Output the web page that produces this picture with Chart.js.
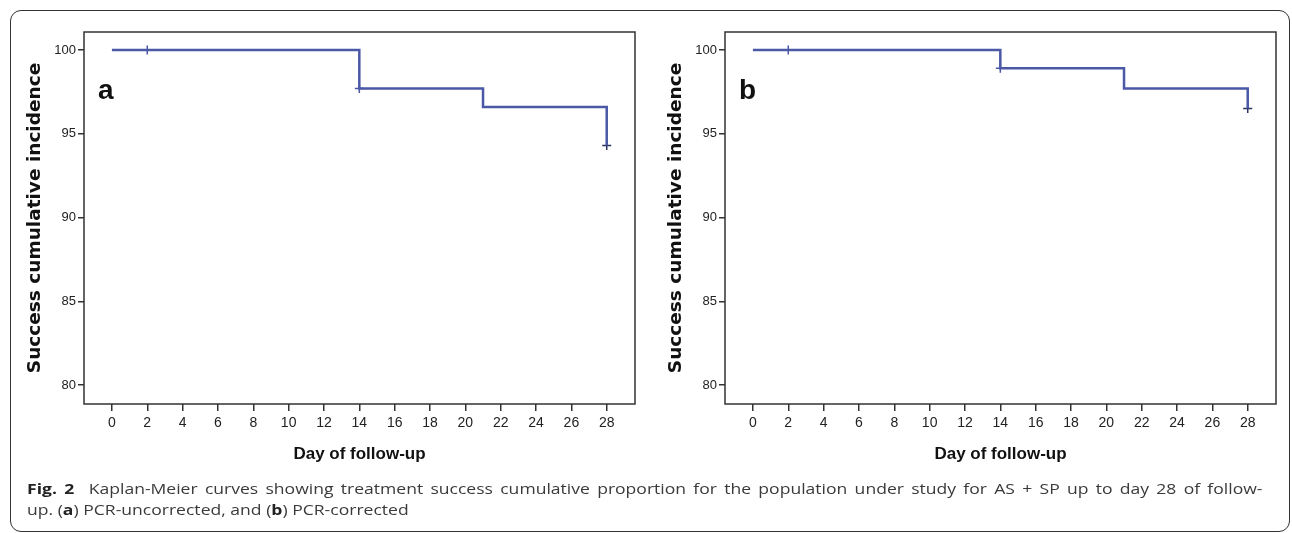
<!DOCTYPE html>
<html>
<head>
<meta charset="utf-8">
<script src="https://cdn.jsdelivr.net/npm/chart.js@4.4.1/dist/chart.umd.min.js"></script>
<style>
  body { margin: 0; background: #fff; width: 1292px; height: 533px; overflow: hidden; position: relative; }
  .frame { position: absolute; left: 10px; top: 10px; width: 1278px; height: 520px; border: 1.5px solid #333; border-radius: 11px; }
  .panel { position: absolute; top: 0; width: 650px; height: 480px; }
  #panelA { left: 0; }
  #panelB { left: 641px; }
  .caption { position: absolute; left: 27px; top: 478px; font-family: "Open Sans", "Noto Sans", sans-serif; font-size: 15px; line-height: 21px; color: #3a3a3a; transform: scaleX(1.17); transform-origin: 0 0; }
  .caption .l1 { width: 1056px; white-space: nowrap; text-align: justify; text-align-last: justify; }
  .caption .l2 { white-space: nowrap; }
  .caption b { color: #222; }
</style>
</head>
<body>
<div class="frame"></div>
<div class="panel" id="panelA"><canvas id="chartA" width="650" height="480"></canvas></div>
<div class="panel" id="panelB"><canvas id="chartB" width="650" height="480"></canvas></div>
<div class="caption">
  <div class="l1"><b>Fig. 2</b>&nbsp; Kaplan-Meier curves showing treatment success cumulative proportion for the population under study for AS + SP up to day 28 of follow-</div>
  <div class="l2">up. (<b>a</b>) PCR-uncorrected, and (<b>b</b>) PCR-corrected</div>
</div>
<script>
// step points of each curve (day, success %)
const stepDaysA = [0, 14, 21, 28];
const stepValsA = [100, 97.7, 96.6, 94.3];
const censorDaysA = [2, 14, 28];
const censorValsA = [100, 97.7, 94.3];

const stepDaysB = [0, 14, 21, 28];
const stepValsB = [100, 98.9, 97.7, 96.5];
const censorDaysB = [2, 14, 28];
const censorValsB = [100, 98.9, 96.5];

const xTicks = [0, 2, 4, 6, 8, 10, 12, 14, 16, 18, 20, 22, 24, 26, 28];
const yTicks = [80, 85, 90, 95, 100];

const lineColor = '#4a58a6';
const sans = "'Liberation Sans', Arial, sans-serif";

// box around plot area + panel letter
const frameBox = {
  id: 'frameBox',
  afterDraw(chart, args, opts) {
    const { ctx, chartArea } = chart;
    ctx.save();
    ctx.strokeStyle = '#333';
    ctx.lineWidth = 1.5;
    ctx.strokeRect(chartArea.left, chartArea.top, chartArea.right - chartArea.left, chartArea.bottom - chartArea.top);
    ctx.fillStyle = '#111';
    ctx.font = "bold 28px " + sans;
    ctx.textBaseline = 'alphabetic';
    ctx.fillText(opts.letter, chartArea.left + 14, 99);
    ctx.restore();
  }
};

function makePanel(id, letter, days, vals, cDays, cVals) {
  const ctx = document.getElementById(id).getContext('2d');
  return new Chart(ctx, {
    type: 'line',
    data: {
      datasets: [{
        data: days.map((d, i) => ({ x: d, y: vals[i] })),
        borderColor: lineColor,
        borderWidth: 2.5,
        stepped: true,
        pointRadius: 0,
        fill: false
      }, {
        data: cDays.map((d, i) => ({ x: d, y: cVals[i] })),
        showLine: false,
        pointStyle: 'cross',
        pointRadius: 4.5,
        pointBorderWidth: 1.5,
        pointBorderColor: cDays.map((d, i) => i === cDays.length - 1 ? '#2b3060' : lineColor)
      }]
    },
    options: {
      responsive: false,
      animation: false,
      events: [],
      layout: { padding: { top: 32, right: 15, left: 0, bottom: 0 } },
      plugins: { legend: { display: false }, tooltip: { enabled: false }, frameBox: { letter: letter } },
      scales: {
        x: {
          type: 'linear',
          min: -1.58,
          max: 29.6,
          afterFit(scale) { scale.height = 76; },
          afterBuildTicks(scale) { scale.ticks = xTicks.map(v => ({ value: v })); },
          border: { display: false },
          grid: { drawOnChartArea: false, drawTicks: true, tickLength: 7, color: '#333', lineWidth: 1.5 },
          ticks: { color: '#222', font: { family: sans, size: 14 }, padding: 4, maxRotation: 0 },
          title: { display: true, text: 'Day of follow-up', color: '#111', font: { family: sans, size: 17, weight: 'bold' }, padding: { top: 0, bottom: 15 } }
        },
        y: {
          min: 78.87,
          max: 101.07,
          afterFit(scale) { scale.width = 84; },
          afterBuildTicks(scale) { scale.ticks = yTicks.map(v => ({ value: v })); },
          border: { display: false },
          grid: { drawOnChartArea: false, drawTicks: true, tickLength: 6, color: '#333', lineWidth: 1.5 },
          ticks: { color: '#222', font: { family: sans, size: 13 }, padding: 2 },
          title: { display: true, text: 'Success cumulative incidence', color: '#111', font: { family: "'DejaVu Sans', sans-serif", size: 18.5, weight: 'bold' }, padding: { top: 24, bottom: 0 } }
        }
      }
    },
    plugins: [frameBox]
  });
}

makePanel('chartA', 'a', stepDaysA, stepValsA, censorDaysA, censorValsA);
makePanel('chartB', 'b', stepDaysB, stepValsB, censorDaysB, censorValsB);
</script>
</body>
</html>
